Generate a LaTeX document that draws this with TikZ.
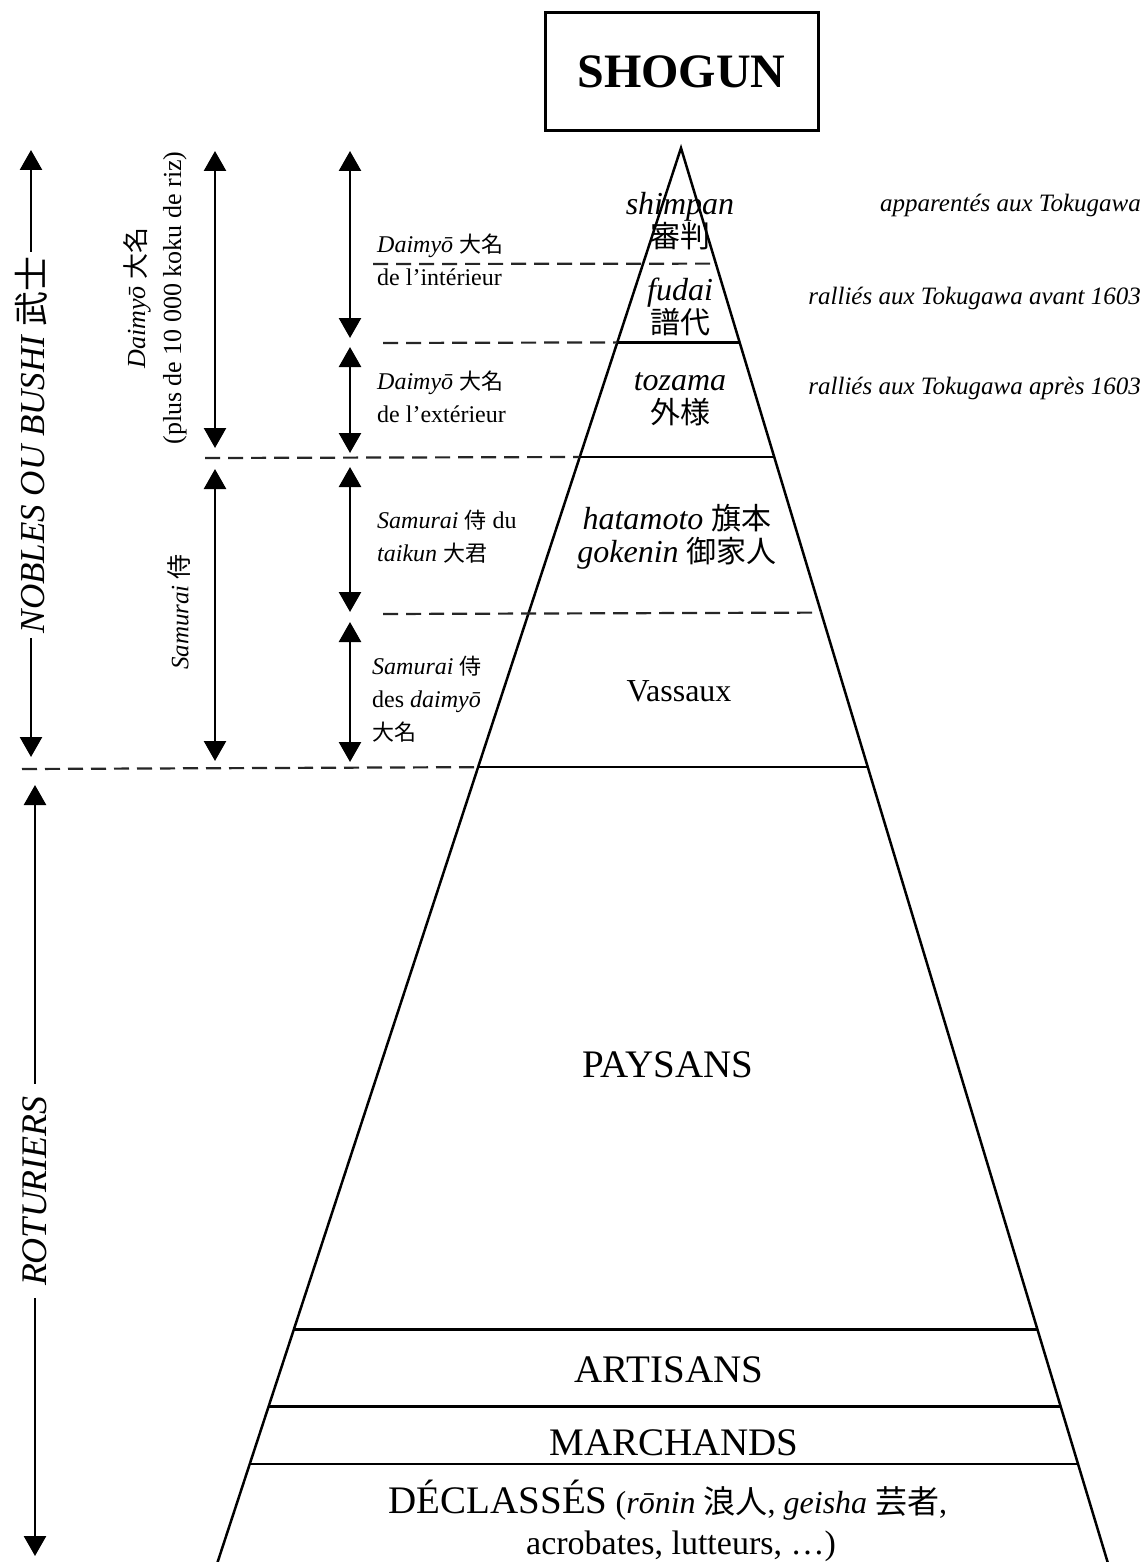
\documentclass[tikz,border=0pt]{standalone}
\usepackage{fontspec}
\setmainfont{Liberation Serif}
\newfontfamily\cjk{Noto Sans CJK JP}
\usetikzlibrary{arrows.meta,calc}
\newcommand\fsz[2]{\fontsize{#1}{#2}\selectfont}
\begin{document}
\begin{tikzpicture}[x=1pt,y=-1pt,
  edge/.style={line width=2.5pt,line join=miter},
  tier/.style={line width=2.5pt},
  dashln/.style={line width=2.2pt,dash pattern=on 15pt off 8pt,black!85},
  dbl/.style={line width=2.6pt,{Triangle[width=22pt,length=20pt]}-{Triangle[width=22pt,length=20pt]}},
  lbl/.style={inner sep=0pt,align=left,anchor=west,font=\fsz{24}{33}},
  pyr/.style={inner sep=0pt,align=center,font=\fsz{32}{33}},
  rlbl/.style={inner sep=0pt,anchor=east,font=\fsz{25}{28}\itshape},
  vlab/.style={rotate=90,fill=white,inner sep=5pt}]
\useasboundingbox (0,0) rectangle (1145,1562);
\fill[white] (0,0) rectangle (1145,1562);
\begin{scope}
\clip (0,0) rectangle (1145,1562);
% shogun
\node[draw,line width=3pt,minimum width=273pt,minimum height=118pt,inner sep=0pt,font=\fsz{48}{56}\bfseries] (shogun) at (681.5,72) {SHOGUN};
% pyramid
\coordinate (apex) at (681,148);
\coordinate (bl) at (215,1570);
\coordinate (br) at (1110,1570);
\draw[edge] (bl) -- (apex) -- (br);
\foreach \t/\n in {0.0813/a,0.1367/b,0.2173/c,0.3267/d,0.4354/e,0.8309/f,0.8849/g,0.9256/h}
  \path ($(apex)!\t!(bl)$) coordinate (l\n) ($(apex)!\t!(br)$) coordinate (r\n);
\foreach \n in {b,c,e,f,g,h} \draw[tier] (l\n) -- (r\n);
% dashed
\coordinate (da) at (373,264);
\coordinate (db) at (383,343);
\coordinate (dc) at (205,458);
\coordinate (dd) at (383,614);
\coordinate (de) at (22,769);
\draw[dashln] (da) -- (ra);
\draw[dashln] (db) -- (lb);
\draw[dashln] (dc) -- (lc);
\draw[dashln] (dd) -- (rd);
\draw[dashln] (de) -- (le);
% arrows column A
\coordinate (a1) at (31,150); \coordinate (a2) at (31,757);
\coordinate (a3) at (35,785); \coordinate (a4) at (35,1556);
\draw[dbl] (a1) -- (a2);
\draw[dbl] (a3) -- (a4);
\node[vlab,font=\fsz{35}{38}] (nobles) at (31,445) {\itshape NOBLES OU BUSHI {\upshape\cjk 武士}};
\node[vlab,font=\fsz{36}{38}\itshape,inner xsep=12pt] (rot) at (35,1191) {ROTURIERS};
% column B
\coordinate (b1) at (215,151); \coordinate (b2) at (215,448);
\coordinate (b3) at (215,469); \coordinate (b4) at (215,761);
\draw[dbl] (b1) -- (b2);
\draw[dbl] (b3) -- (b4);
\node[rotate=90,inner sep=0pt,align=center,font=\fsz{26}{36}] (daim) at (155,298) {{\itshape Daimyō} {\cjk 大名}\\(plus de 10 000 koku de riz)};
\node[rotate=90,inner sep=0pt,font=\fsz{25}{30}] (sam) at (179,612) {{\itshape Samurai} {\cjk 侍}};
% column C
\coordinate (c1) at (350,151); \coordinate (c2) at (350,338);
\coordinate (c3) at (350,347); \coordinate (c4) at (350,453);
\coordinate (c5) at (350,467); \coordinate (c6) at (350,612);
\coordinate (c7) at (350,622); \coordinate (c8) at (350,762);
\draw[dbl] (c1) -- (c2);
\draw[dbl] (c3) -- (c4);
\draw[dbl] (c5) -- (c6);
\draw[dbl] (c7) -- (c8);
% left labels
\node[lbl] (int) at (377,260) {{\itshape Daimyō} {\cjk\fsz{22}{33}大名}\\de l’intérieur};
\node[lbl] (ext) at (377,397) {{\itshape Daimyō} {\cjk\fsz{22}{33}大名}\\de l’extérieur};
\node[lbl] (tai) at (377,537) {{\itshape Samurai} {\cjk\fsz{22}{33}侍} du\\{\itshape taikun} {\cjk\fsz{22}{33}大君}};
\node[lbl] (des) at (372,699) {{\itshape Samurai} {\cjk\fsz{22}{33}侍}\\des {\itshape daimyō}\\{\cjk\fsz{22}{33}大名}};
% pyramid labels
\node[pyr] (shim) at (680,221) {{\itshape shimpan}\\{\cjk\fsz{30}{33}審判}};
\node[pyr] (fud) at (680,307) {{\itshape fudai}\\{\cjk\fsz{30}{33}譜代}};
\node[pyr] (toz) at (680,399) {{\itshape tozama}\\{\cjk\fsz{30}{33}外様}};
\node[pyr] (hat) at (677,537) {{\itshape hatamoto} {\cjk\fsz{30}{33}旗本}\\{\itshape gokenin} {\cjk\fsz{30}{33}御家人}};
\node[pyr,font=\fsz{32}{33}] (vas) at (679,691) {Vassaux};
\node[pyr,font=\fsz{39}{40}] (pay) at (668,1065) {PAYSANS};
\node[pyr,font=\fsz{39}{40}] (art) at (669,1370) {ARTISANS};
\node[pyr,font=\fsz{39}{40}] (mar) at (674,1443) {MARCHANDS};
\node[pyr,font=\fsz{32}{45}] (dec) at (668,1500) {{\fsz{39}{45}DÉCLASSÉS} ({\itshape rōnin} {\cjk 浪人}, {\itshape geisha} {\cjk 芸者},};
\node[pyr,font=\fsz{34}{40}] (acr) at (681,1546) {acrobates, lutteurs, …)};
% right labels
\node[rlbl] (app) at (1141,205) {apparentés aux Tokugawa};
\node[rlbl] (av) at (1141,298) {ralliés aux Tokugawa avant 1603};
\node[rlbl] (ap) at (1141,388) {ralliés aux Tokugawa après 1603};
\end{scope}
\end{tikzpicture}
\end{document}
